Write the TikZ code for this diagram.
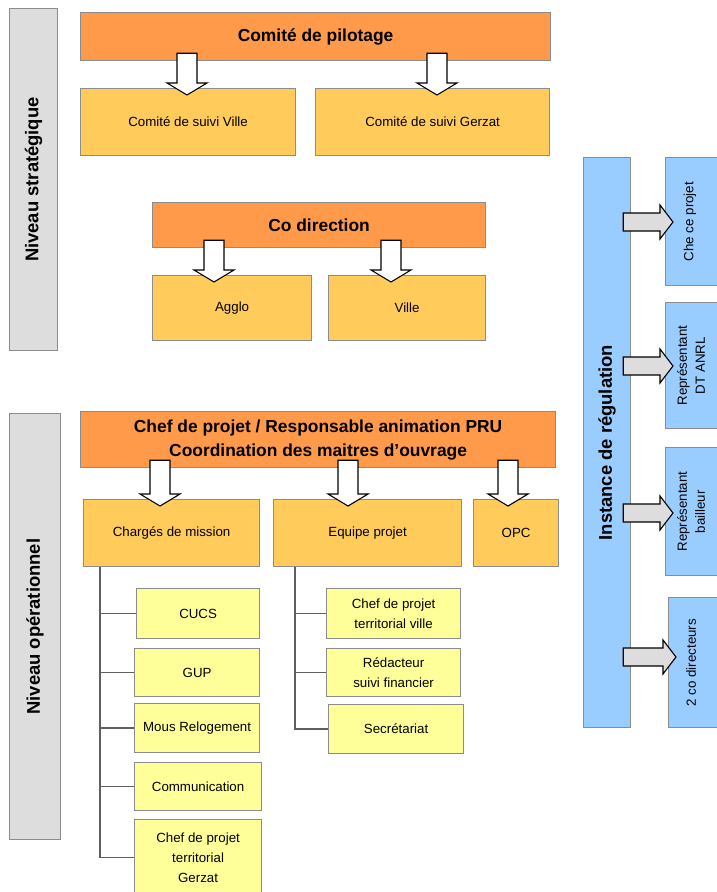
\documentclass[tikz,border=0pt]{standalone}
\usepackage{fontspec}
\setmainfont{Liberation Sans}
\usetikzlibrary{calc}
\definecolor{corange}{HTML}{FF9A4A}
\definecolor{cgold}{HTML}{FFCC5C}
\definecolor{cpale}{HTML}{FFFF99}
\definecolor{cblue}{HTML}{99CCFF}
\definecolor{cgray}{HTML}{DDDDDD}
\definecolor{cborder}{HTML}{8C8C8C}
\definecolor{cline}{HTML}{5F5F5F}
\newcommand\blockdown[3]{%
  \draw[dnarrow] let \p1=(#1.south), \p2=(#2.north) in
    (#3pt-10pt,\y1+8pt) -- (#3pt+10pt,\y1+8pt) -- (#3pt+10pt,\y2+5pt) -- (#3pt+20pt,\y2+5pt)
    -- (#3pt,\y2-7pt) -- (#3pt-20pt,\y2+5pt) -- (#3pt-10pt,\y2+5pt) -- cycle;}
\newcommand\blockright[3]{%
  \draw[rtarrow] let \p1=(#1.east), \p2=(#2.west) in
    (\x1-8pt,-#3pt+9pt) -- (\x2-5pt,-#3pt+9pt) -- (\x2-5pt,-#3pt+17pt) -- (\x2+8pt,-#3pt)
    -- (\x2-5pt,-#3pt-17pt) -- (\x2-5pt,-#3pt-9pt) -- (\x1-8pt,-#3pt-9pt) -- cycle;}
\begin{document}
\begin{tikzpicture}[x=1pt,y=-1pt,
  box/.style={draw=cborder, line width=1.2pt, anchor=north west, inner sep=0pt, align=center, text=black},
  big/.style={font=\fontsize{17.4}{24}\selectfont\bfseries},
  small/.style={font=\fontsize{13.3}{20}\selectfont},
  side/.style={font=\fontsize{18.4}{22}\selectfont\bfseries, rotate=90},
  rsmall/.style={font=\fontsize{13.3}{18}\selectfont, rotate=90, align=center},
  dnarrow/.style={draw=black, line width=1.1pt, fill=white},
  rtarrow/.style={draw=black, line width=1.1pt, fill=cgray},
  tree/.style={draw=cline, line width=1.7pt}]
\useasboundingbox[fill=white] (0,0) rectangle (717,892);

% left level boxes
\node[box, fill=cgray, minimum width=48pt, minimum height=342pt] (nivS) at (9,8) {};
\node[side] at (nivS.center) {Niveau stratégique};
\node[box, fill=cgray, minimum width=51pt, minimum height=426pt] (nivO) at (9,413) {};
\node[side] at (nivO.center) {Niveau opérationnel};

% strategic
\node[box, fill=corange, big, minimum width=470pt, minimum height=48pt] (pil) at (80,12) {Comité de pilotage};
\node[box, fill=cgold, small, minimum width=215pt, minimum height=67pt] (sv) at (80,88) {Comité de suivi Ville};
\node[box, fill=cgold, small, minimum width=234pt, minimum height=67pt] (sg) at (315,88) {Comité de suivi Gerzat};
\node[box, fill=corange, big, minimum width=333pt, minimum height=45pt] (codir) at (152,202) {Co direction};
\node[box, fill=cgold, small, minimum width=159pt, minimum height=65pt] (agglo) at (152,275) {Agglo};
\node[box, fill=cgold, small, minimum width=157pt, minimum height=65pt] (ville) at (328,275) {Ville};

% operational
\node[box, fill=corange, big, minimum width=475pt, minimum height=56pt] (chef) at (80,411) {Chef de projet / Responsable animation PRU\\Coordination des maitres d'ouvrage};
\node[box, fill=cgold, small, minimum width=176pt, minimum height=67pt] (cm) at (83,499) {Chargés de mission};
\node[box, fill=cgold, small, minimum width=188pt, minimum height=67pt] (ep) at (273,499) {Equipe projet};
\node[box, fill=cgold, small, minimum width=85pt, minimum height=67pt] (opc) at (473,499) {OPC};

\node[box, fill=cpale, small, minimum width=123pt, minimum height=50pt] (cucs) at (136,588) {CUCS};
\node[box, fill=cpale, small, minimum width=125pt, minimum height=48pt] (gup) at (134,648) {GUP};
\node[box, fill=cpale, small, minimum width=125pt, minimum height=49pt] (mous) at (134,703) {Mous Relogement};
\node[box, fill=cpale, small, minimum width=127pt, minimum height=48pt] (comm) at (134,762) {Communication};
\node[box, fill=cpale, small, minimum width=127pt, minimum height=76pt] (gerz) at (134,819) {Chef de projet\\territorial\\Gerzat};

\node[box, fill=cpale, small, minimum width=134pt, minimum height=50pt] (cptv) at (326,588) {Chef de projet\\territorial ville};
\node[box, fill=cpale, small, minimum width=134pt, minimum height=48pt] (red) at (326,648) {Rédacteur\\suivi financier};
\node[box, fill=cpale, small, minimum width=135pt, minimum height=49pt] (sec) at (328,704) {Secrétariat};

% regulation
\node[box, fill=cblue, minimum width=47pt, minimum height=570pt] (inst) at (583,157) {};
\node[side] at (inst.center) {Instance de régulation};
\node[box, fill=cblue, minimum width=60pt, minimum height=128pt] (r1) at (665,157) {};
\node[rsmall] at ($(r1.west)+(25,0)$) {Che ce projet};
\node[box, fill=cblue, minimum width=60pt, minimum height=126pt] (r2) at (665,302) {};
\node[rsmall] at ($(r2.west)+(26,0)$) {Représentant\\DT ANRL};
\node[box, fill=cblue, minimum width=60pt, minimum height=128pt] (r3) at (665,447) {};
\node[rsmall] at ($(r3.west)+(26,0)$) {Représentant\\bailleur};
\node[box, fill=cblue, minimum width=60pt, minimum height=130pt] (r4) at (668,597) {};
\node[rsmall] at ($(r4.west)+(23,0)$) {2 co directeurs};

% tree connectors
\coordinate (t1) at ($(cm.south west)+(17,0)$);
\foreach \n in {cucs,gup,mous,comm,gerz} \draw[tree] (t1) |- (\n.west);
\coordinate (t2) at ($(ep.south west)+(22,0)$);
\foreach \n in {cptv,red,sec} \draw[tree] (t2) |- (\n.west);

% block arrows
\blockdown{pil}{sv}{187}
\blockdown{pil}{sg}{437}
\blockdown{codir}{agglo}{214}
\blockdown{codir}{ville}{391}
\blockdown{chef}{cm}{160}
\blockdown{chef}{ep}{348}
\blockdown{chef}{opc}{508}
\blockright{inst}{r1}{222}
\blockright{inst}{r2}{366}
\blockright{inst}{r3}{513}
\blockright{inst}{r4}{657}
\end{tikzpicture}
\end{document}
